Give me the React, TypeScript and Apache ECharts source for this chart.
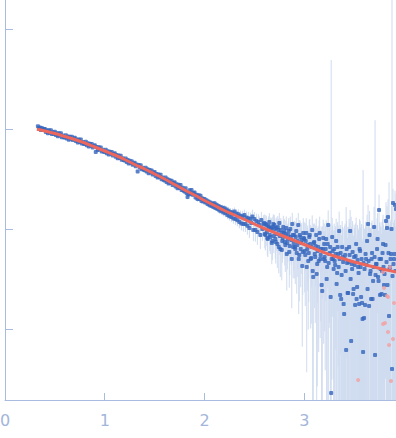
import React, { useEffect, useRef } from "react";
import * as echarts from "echarts";

// Scattering vector grid (nm^-1): first point and bin width
const Q_START = 0.33;
const Q_STEP = 0.01;
// Interleaved bins in the high-q region start here (same bin width)
const Q_HALF_START = 2.605;

// log10 of intensity for each bin
const logIntensity: number[] = [
  0.028, 0.010, 0.016, -0.010, 0.010, -0.010, 0.000,
  0.000, -0.031, -0.013, -0.042, -0.012, -0.037, -0.013, -0.050, -0.032, -0.049,
  -0.027, -0.060, -0.043, -0.072, -0.043, -0.066, -0.043, -0.082, -0.065, -0.082,
  -0.085, -0.062, -0.095, -0.074, -0.107, -0.078, -0.097, -0.078, -0.111, -0.096,
  -0.087, -0.121, -0.104, -0.134, -0.105, -0.129, -0.106, -0.146, -0.129, -0.147,
  -0.150, -0.128, -0.162, -0.142, -0.176, -0.148, -0.168, -0.150, -0.184, -0.170,
  -0.162, -0.229, -0.180, -0.210, -0.182, -0.206, -0.184, -0.224, -0.208, -0.226,
  -0.230, -0.208, -0.242, -0.222, -0.256, -0.228, -0.248, -0.230, -0.264, -0.250,
  -0.242, -0.277, -0.261, -0.292, -0.264, -0.289, -0.267, -0.308, -0.292, -0.311,
  -0.315, -0.294, -0.329, -0.310, -0.345, -0.318, -0.339, -0.322, -0.357, -0.344,
  -0.337, -0.372, -0.356, -0.424, -0.359, -0.384, -0.362, -0.403, -0.387, -0.406,
  -0.412, -0.387, -0.426, -0.403, -0.442, -0.411, -0.434, -0.415, -0.454, -0.437,
  -0.430, -0.469, -0.450, -0.485, -0.454, -0.483, -0.458, -0.503, -0.484, -0.507,
  -0.514, -0.486, -0.529, -0.503, -0.546, -0.512, -0.539, -0.517, -0.560, -0.540,
  -0.533, -0.576, -0.553, -0.592, -0.557, -0.590, -0.561, -0.610, -0.587, -0.614,
  -0.626, -0.593, -0.640, -0.680, -0.656, -0.612, -0.648, -0.611, -0.658, -0.643,
  -0.636, -0.684, -0.657, -0.701, -0.662, -0.700, -0.667, -0.721, -0.694, -0.726,
  -0.700, -0.734, -0.712, -0.750, -0.724, -0.762, -0.736, -0.770, -0.744, -0.780,
  -0.742, -0.790, -0.758, -0.800, -0.770, -0.816, -0.780, -0.822, -0.788, -0.836,
  -0.792, -0.842, -0.806, -0.860, -0.818, -0.872, -0.830, -0.880, -0.836, -0.896,
  -0.826, -0.900, -0.846, -0.912, -0.852, -0.930, -0.868, -0.944, -0.872, -0.950,
  -0.860, -0.950, -0.884, -0.968, -0.892, -0.990, -0.900, -0.940, -0.874, -1.010,
  -0.900, -1.010, -0.920, -1.030, -0.930, -0.960, -1.060, -0.910, -1.000, -0.950,
  -0.940, -1.060, -0.960, -1.090, -0.980, -0.930, -1.080, -1.000, -1.120, -0.950,
  -0.960, -1.100, -0.990, -1.150, -1.010, -0.940, -1.200, -1.040, -1.120, -0.980,
  -1.020, -1.160, -0.990, -1.140, -1.060, -1.230, -1.000, -1.110, -0.950, -1.180,
  -1.060, -1.200, -1.020, -1.160, -0.960, -1.260, -1.080, -1.140, -1.370, -1.040,
  -1.100, -1.260, -1.040, -1.200, -1.320, -1.080, -1.150, -1.290, -1.010, -1.480,
  -1.130, -1.280, -1.060, -1.350, -1.180, -1.100, -1.300, -1.200, -1.620, -1.090,
  -1.150, -1.320, -1.100, -1.380, -0.960, -1.250, -1.180, -2.640, -1.080, -1.300,
  -1.200, -1.360, -1.120, -1.440, -1.250, -1.020, -1.660, -1.700, -1.180, -1.330,
  -1.850, -1.260, -2.210, -1.340, -1.640, -1.180, -1.020, -2.120, -1.400, -1.650,
  -1.280, -1.760, -1.150, -1.580, -1.380, -1.750, -1.220, -1.680, -1.740, -2.230,
  -1.890, -1.760, -1.300, -1.120, -0.950, -1.770, -1.450, -1.700, -1.240, -1.520,
  -0.980, -2.260, -1.350, -1.200, -1.480, -0.810, -1.660, -1.300, -1.420, -1.150,
  -1.560, -1.660, -0.920, -0.990, -0.880, -1.870, -1.380, -1.250, -2.400, -0.740,
  -1.300, -0.760, -0.800,
];

// Standard deviation of intensity (linear units) for each bin
const sigma: number[] = [
  0.008, 0.007, 0.008, 0.008, 0.007, 0.008, 0.007,
  0.007, 0.008, 0.007, 0.007, 0.008, 0.007, 0.007, 0.008, 0.007, 0.007,
  0.007, 0.007, 0.006, 0.007, 0.007, 0.006, 0.007, 0.007, 0.006, 0.007,
  0.006, 0.007, 0.006, 0.006, 0.007, 0.006, 0.006, 0.007, 0.006, 0.006,
  0.006, 0.006, 0.007, 0.006, 0.006, 0.006, 0.007, 0.006, 0.006, 0.006,
  0.006, 0.006, 0.006, 0.007, 0.006, 0.006, 0.006, 0.006, 0.007, 0.006,
  0.006, 0.006, 0.006, 0.006, 0.007, 0.006, 0.006, 0.006, 0.006, 0.007,
  0.006, 0.007, 0.006, 0.007, 0.006, 0.007, 0.006, 0.007, 0.006, 0.007,
  0.007, 0.007, 0.006, 0.007, 0.007, 0.007, 0.006, 0.007, 0.007, 0.007,
  0.007, 0.007, 0.007, 0.008, 0.007, 0.007, 0.007, 0.008, 0.007, 0.007,
  0.007, 0.008, 0.007, 0.008, 0.008, 0.007, 0.008, 0.008, 0.007, 0.008,
  0.008, 0.008, 0.008, 0.008, 0.009, 0.008, 0.008, 0.008, 0.009, 0.008,
  0.008, 0.009, 0.008, 0.009, 0.009, 0.008, 0.009, 0.009, 0.009, 0.008,
  0.009, 0.009, 0.009, 0.010, 0.009, 0.009, 0.010, 0.009, 0.009, 0.010,
  0.009, 0.010, 0.010, 0.009, 0.010, 0.010, 0.010, 0.011, 0.010, 0.010,
  0.010, 0.011, 0.010, 0.011, 0.011, 0.010, 0.011, 0.011, 0.012, 0.011,
  0.011, 0.012, 0.011, 0.012, 0.012, 0.012, 0.013, 0.012, 0.012, 0.013,
  0.008, 0.008, 0.009, 0.008, 0.009, 0.009, 0.009, 0.010, 0.009, 0.010,
  0.010, 0.010, 0.011, 0.010, 0.011, 0.011, 0.012, 0.011, 0.012, 0.012,
  0.012, 0.013, 0.012, 0.013, 0.014, 0.013, 0.014, 0.014, 0.015, 0.014,
  0.015, 0.016, 0.015, 0.016, 0.017, 0.016, 0.017, 0.017, 0.018, 0.018,
  0.018, 0.019, 0.019, 0.020, 0.020, 0.021, 0.020, 0.021, 0.022, 0.022,
  0.022, 0.023, 0.022, 0.024, 0.023, 0.024, 0.024, 0.025, 0.024, 0.025,
  0.025, 0.026, 0.025, 0.027, 0.026, 0.027, 0.027, 0.028, 0.027, 0.028,
  0.028, 0.029, 0.028, 0.030, 0.029, 0.030, 0.030, 0.031, 0.030, 0.031,
  0.031, 0.032, 0.031, 0.033, 0.032, 0.033, 0.033, 0.034, 0.033, 0.034,
  0.034, 0.035, 0.034, 0.036, 0.035, 0.036, 0.036, 0.037, 0.036, 0.037,
  0.037, 0.038, 0.037, 0.039, 0.038, 0.039, 0.039, 0.040, 0.039, 0.040,
  0.040, 0.041, 0.040, 0.042, 0.041, 0.042, 0.042, 0.043, 0.042, 0.043,
  0.043, 0.044, 0.043, 0.045, 0.044, 0.046, 0.045, 4.900, 0.046, 0.047,
  0.050, 0.052, 0.051, 0.053, 0.052, 0.054, 0.053, 0.055, 0.054, 0.055,
  0.056, 0.058, 0.160, 0.059, 0.058, 0.060, 0.059, 0.125, 0.060, 0.061,
  0.058, 0.060, 0.059, 0.061, 0.060, 0.062, 0.061, 0.063, 0.062, 0.383,
  0.060, 0.062, 0.061, 0.063, 0.062, 0.064, 0.063, 0.065, 0.064, 0.066,
  0.062, 1.220, 0.063, 0.065, 0.064, 0.066, 0.065, 0.067, 0.066, 0.068,
  0.064, 0.066, 0.065, 0.067, 0.066, 0.280, 0.067, 0.069, 30.00, 0.070,
  0.066, 0.068, 0.067,
];

// Interleaved high-q bins (2.605 ... 3.915), log10 of intensity
const logIntensityHalf: number[] = [
  -1.050, -0.950, -1.030, -1.100, -0.970, -1.060, -0.990, -1.140, -0.980, -1.070,
  -1.000, -1.130, -1.050, -0.980, -1.180, -1.070, -1.010, -1.210, -1.090, -1.040,
  -1.130, -1.050, -1.250, -1.100, -1.020, -1.170, -1.080, -1.300, -1.060, -1.140,
  -1.180, -1.080, -1.240, -1.120, -1.300, -1.060, -1.200, -1.110, -1.230, -1.090,
  -1.220, -1.120, -1.380, -1.160, -1.240, -1.060, -1.300, -1.180, -1.420, -1.140,
  -1.250, -1.170, -1.450, -1.220, -1.320, -1.040, -1.260, -1.560, -1.200, -1.300,
  -1.280, -1.200, -1.500, -1.150, -1.340, -1.240, -1.680, -1.300, -1.220, -1.400,
  -1.320, -1.250, -1.550, -1.180, -1.380, -1.300, -1.240, -1.460, -1.280, -1.750,
  -1.300, -1.420, -1.200, -1.640, -1.330, -1.260, -1.500, -1.350, -1.230, -1.600,
  -1.360, -1.270, -1.700, -1.310, -1.440, -1.200, -1.380, -1.300, -1.900, -1.340,
  -1.400, -1.250, -1.360, -1.600, -1.320, -1.060, -1.420, -1.300, -1.700, -1.380,
  -1.280, -1.460, -1.350, -1.100, -1.520, -1.300, -1.400, -1.650, -1.240, -1.380,
  -1.450, -1.160, -1.330, -1.560, -1.240, -1.400, -1.300, -1.000, -1.470, -1.350,
  -1.250, -1.420,
];
const sigmaHalf: number[] = [
  0.025, 0.026, 0.026, 0.027, 0.027, 0.027, 0.028, 0.028, 0.028, 0.028,
  0.028, 0.029, 0.029, 0.030, 0.030, 0.030, 0.031, 0.031, 0.031, 0.031,
  0.031, 0.032, 0.032, 0.033, 0.033, 0.033, 0.034, 0.034, 0.034, 0.034,
  0.034, 0.035, 0.035, 0.036, 0.036, 0.036, 0.037, 0.037, 0.037, 0.037,
  0.037, 0.038, 0.038, 0.039, 0.039, 0.039, 0.040, 0.040, 0.040, 0.040,
  0.040, 0.041, 0.041, 0.042, 0.042, 0.042, 0.043, 0.043, 0.043, 0.043,
  0.043, 0.044, 0.044, 0.045, 0.045, 0.046, 0.046, 0.047, 0.047, 0.048,
  0.049, 0.050, 0.050, 0.051, 0.051, 0.052, 0.052, 0.053, 0.053, 0.054,
  0.057, 0.058, 0.058, 0.059, 0.059, 0.060, 0.060, 0.060, 0.061, 0.061,
  0.059, 0.060, 0.060, 0.061, 0.061, 0.062, 0.062, 0.062, 0.063, 0.063,
  0.061, 0.062, 0.062, 0.063, 0.063, 0.064, 0.064, 0.065, 0.065, 0.066,
  0.063, 0.064, 0.064, 0.065, 0.065, 0.066, 0.066, 0.067, 0.067, 0.068,
  0.065, 0.066, 0.066, 0.067, 0.067, 0.068, 0.068, 0.069, 0.069, 0.070,
  0.067, 0.068,
];

// Model fit curve, log10 of intensity
const fitQ: number[] = [
  0.32, 0.4, 0.5, 0.6, 0.7, 0.8, 0.9, 1.0, 1.1, 1.2, 1.3, 1.4, 1.5, 1.6, 1.7, 1.8, 1.9,
  2.0, 2.1, 2.2, 2.3, 2.4, 2.5, 2.6, 2.7, 2.8, 2.9, 3.0, 3.1, 3.2, 3.3, 3.4, 3.5, 3.6,
  3.7, 3.8, 3.9, 3.92,
];
const fitLog: number[] = [
  -0.003, -0.02, -0.045, -0.075, -0.105, -0.14, -0.18, -0.22, -0.26, -0.305, -0.355,
  -0.4, -0.45, -0.5, -0.555, -0.61, -0.66, -0.715, -0.765, -0.815, -0.86, -0.905,
  -0.95, -0.995, -1.035, -1.075, -1.115, -1.155, -1.195, -1.235, -1.27, -1.3, -1.33,
  -1.355, -1.38, -1.405, -1.425, -1.43,
];

// Points outside the fit (pink)
const outlierQ: number[] = [3.54, 3.79, 3.8, 3.83, 3.84, 3.79, 3.81, 3.84, 3.89, 3.85, 3.87, 3.9, 3.86];
const outlierLog: number[] = [-2.51, -1.43, -1.59, -1.67, -1.68, -1.95, -1.94, -2.03, -2.1, -2.16, -2.52, -1.74, -1.38];

const xTicks = [0, 1, 2, 3];
const yTicks = [-2, -1, 0, 1];
const Y_MIN = -2.71;
const Y_MAX = 1.29;
const X_MAX = 3.92;

export default function App() {
  const ref = useRef<HTMLDivElement>(null);
  useEffect(() => {
    if (!ref.current) return;
    const chart = echarts.init(ref.current, undefined, { renderer: "svg" });

    const points: number[][] = [];
    const bars: number[][] = [];
    const addSet = (start: number, logs: number[], sig: number[]) => {
      logs.forEach((v, i) => {
        const q = +(start + i * Q_STEP).toFixed(4);
        points.push([q, v]);
        const I = Math.pow(10, v);
        const lo = I - sig[i];
        const hi = I + sig[i];
        const loL = lo > 0 ? Math.max(Math.log10(lo), Y_MIN) : Y_MIN;
        const hiL = Math.min(Math.log10(hi), Y_MAX);
        bars.push([q, loL, hiL]);
      });
    };
    addSet(Q_START, logIntensity, sigma);
    addSet(Q_HALF_START, logIntensityHalf, sigmaHalf);
    const fit = fitQ.map((q, i) => [q, fitLog[i]]);
    const outliers = outlierQ.map((q, i) => [q, outlierLog[i]]);

    const axisColor = "#a9bcdf";
    chart.setOption({
      animation: false,
      grid: { left: 5, right: 0, top: 0, bottom: 38, containLabel: false, outerBoundsMode: "none" },
      xAxis: {
        type: "value",
        min: 0,
        max: X_MAX,
        axisLine: { show: true, onZero: false, lineStyle: { color: axisColor, width: 1 } },
        axisTick: { show: true, inside: true, length: 7, customValues: xTicks, lineStyle: { color: axisColor } },
        axisLabel: {
          show: true,
          customValues: xTicks,
          color: "#a3b6da",
          fontSize: 16,
          fontFamily: "DejaVu Sans",
          margin: 12,
        },
        splitLine: { show: false },
      },
      yAxis: {
        type: "value",
        min: Y_MIN,
        max: Y_MAX,
        axisLine: { show: true, onZero: false, lineStyle: { color: axisColor, width: 1 } },
        axisTick: { show: true, inside: true, length: 8, customValues: yTicks, lineStyle: { color: axisColor } },
        axisLabel: { show: false },
        splitLine: { show: false },
      },
      series: [
        {
          type: "custom",
          name: "error",
          data: bars,
          encode: { x: 0, y: [1, 2] },
          clip: true,
          z: 1,
          renderItem: (params: any, api: any) => {
            const q = api.value(0);
            const p1 = api.coord([q, api.value(1)]);
            const p2 = api.coord([q, api.value(2)]);
            return {
              type: "line",
              shape: { x1: p1[0], y1: p1[1], x2: p2[0], y2: p2[1] },
              style: { stroke: "#cfdbef", lineWidth: 1 },
            };
          },
        },
        {
          type: "scatter",
          name: "data",
          data: points,
          symbol: "roundRect",
          symbolSize: 4,
          itemStyle: { color: "#3565bd" },
          z: 2,
        },
        {
          type: "scatter",
          name: "outliers",
          data: outliers,
          symbol: "circle",
          symbolSize: 4,
          itemStyle: { color: "#f4a0a0" },
          z: 3,
        },
        {
          type: "line",
          name: "fit",
          data: fit,
          smooth: true,
          showSymbol: false,
          symbol: "none",
          lineStyle: { color: "#ee675c", width: 3 },
          z: 4,
        },
      ],
    });
    return () => chart.dispose();
  }, []);
  return (
    <div
      ref={ref}
      style={{ position: "fixed", left: 0, top: 0, width: 396, height: 438, background: "#fff" }}
    />
  );
}
